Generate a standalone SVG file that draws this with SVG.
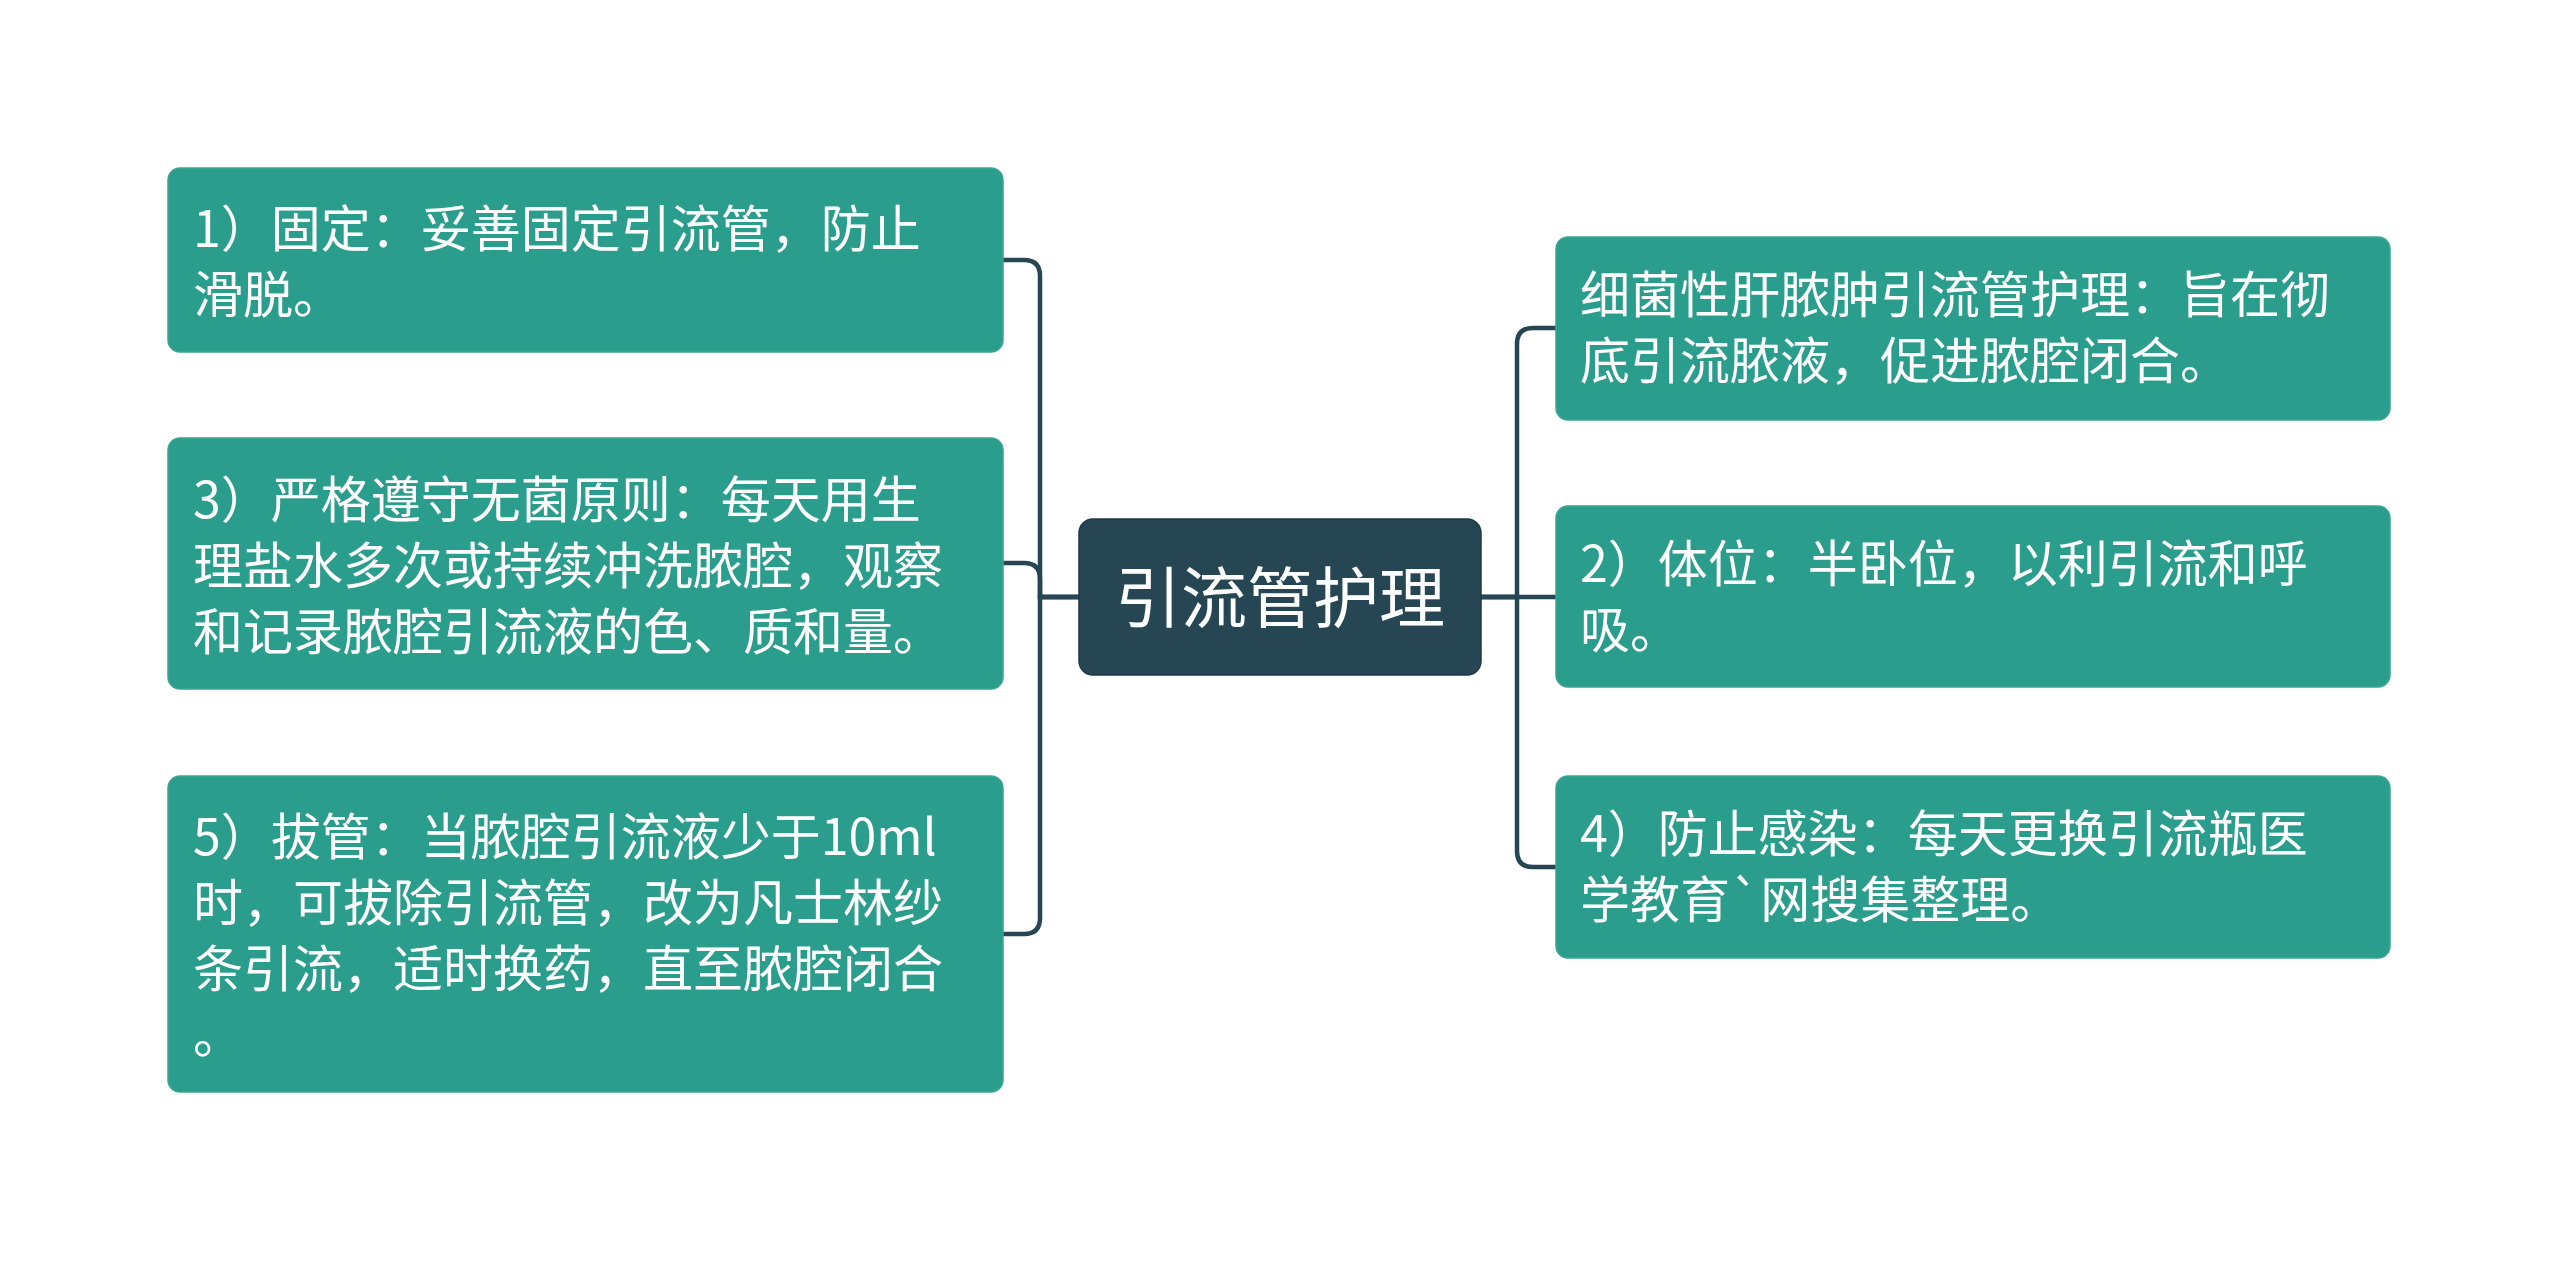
<svg xmlns="http://www.w3.org/2000/svg" width="2560" height="1263" viewBox="0 0 2560 1263">
<style>
.bg{fill:#ffffff}
.topic{fill:#2b9d8c;stroke:#3aa593;stroke-width:1.5}
.root{fill:#264653;stroke:#1e3a45;stroke-width:1.5}
.t{font-family:"Noto Sans CJK SC","Noto Sans",sans-serif;font-size:50px;fill:#ffffff}
.rt{font-family:"Noto Sans CJK SC","Noto Sans",sans-serif;font-size:66px;fill:#ffffff;text-anchor:middle}
.c{fill:none;stroke:#264653;stroke-width:4.5}
</style>
<rect class="bg" x="0" y="0" width="2560" height="1263"/>
<g id="connectors">
<path class="c" d="M1079,597 H1040 V276 Q1040,260 1024,260 H1003"/>
<path class="c" d="M1079,597 H1040 V579 Q1040,563 1024,563 H1003"/>
<path class="c" d="M1079,597 H1040 V918 Q1040,934 1024,934 H1003"/>
<path class="c" d="M1481,597 H1517 V344 Q1517,328 1533,328 H1556"/>
<path class="c" d="M1481,597 H1556"/>
<path class="c" d="M1481,597 H1517 V851 Q1517,867 1533,867 H1556"/>
</g>
<g id="root">
<rect class="root" x="1079" y="519" width="402" height="156" rx="14"/>
<text class="rt" x="1280" y="622">引流管护理</text>
</g>
<g id="node1">
<rect class="topic" x="168" y="168" width="835" height="184" rx="12"/>
<text class="t" x="193" y="247">1）固定：妥善固定引流管，防止</text>
<text class="t" x="193" y="313">滑脱。</text>
</g>
<g id="node3">
<rect class="topic" x="168" y="438" width="835" height="251" rx="12"/>
<text class="t" x="193" y="518">3）严格遵守无菌原则：每天用生</text>
<text class="t" x="193" y="584">理盐水多次或持续冲洗脓腔，观察</text>
<text class="t" x="193" y="650">和记录脓腔引流液的色、质和量。</text>
</g>
<g id="node5">
<rect class="topic" x="168" y="776" width="835" height="316" rx="12"/>
<text class="t" x="193" y="855">5）拔管：当脓腔引流液少于10ml</text>
<text class="t" x="193" y="921">时，可拔除引流管，改为凡士林纱</text>
<text class="t" x="193" y="987">条引流，适时换药，直至脓腔闭合</text>
<text class="t" x="193" y="1053">。</text>
</g>
<g id="nodeA">
<rect class="topic" x="1556" y="237" width="834" height="183" rx="12"/>
<text class="t" x="1580" y="313">细菌性肝脓肿引流管护理：旨在彻</text>
<text class="t" x="1580" y="379">底引流脓液，促进脓腔闭合。</text>
</g>
<g id="node2">
<rect class="topic" x="1556" y="506" width="834" height="181" rx="12"/>
<text class="t" x="1580" y="582">2）体位：半卧位，以利引流和呼</text>
<text class="t" x="1580" y="648">吸。</text>
</g>
<g id="node4">
<rect class="topic" x="1556" y="776" width="834" height="182" rx="12"/>
<text class="t" x="1580" y="852">4）防止感染：每天更换引流瓶医</text>
<text class="t" x="1580" y="918">学教育`网搜集整理。</text>
</g>
</svg>
